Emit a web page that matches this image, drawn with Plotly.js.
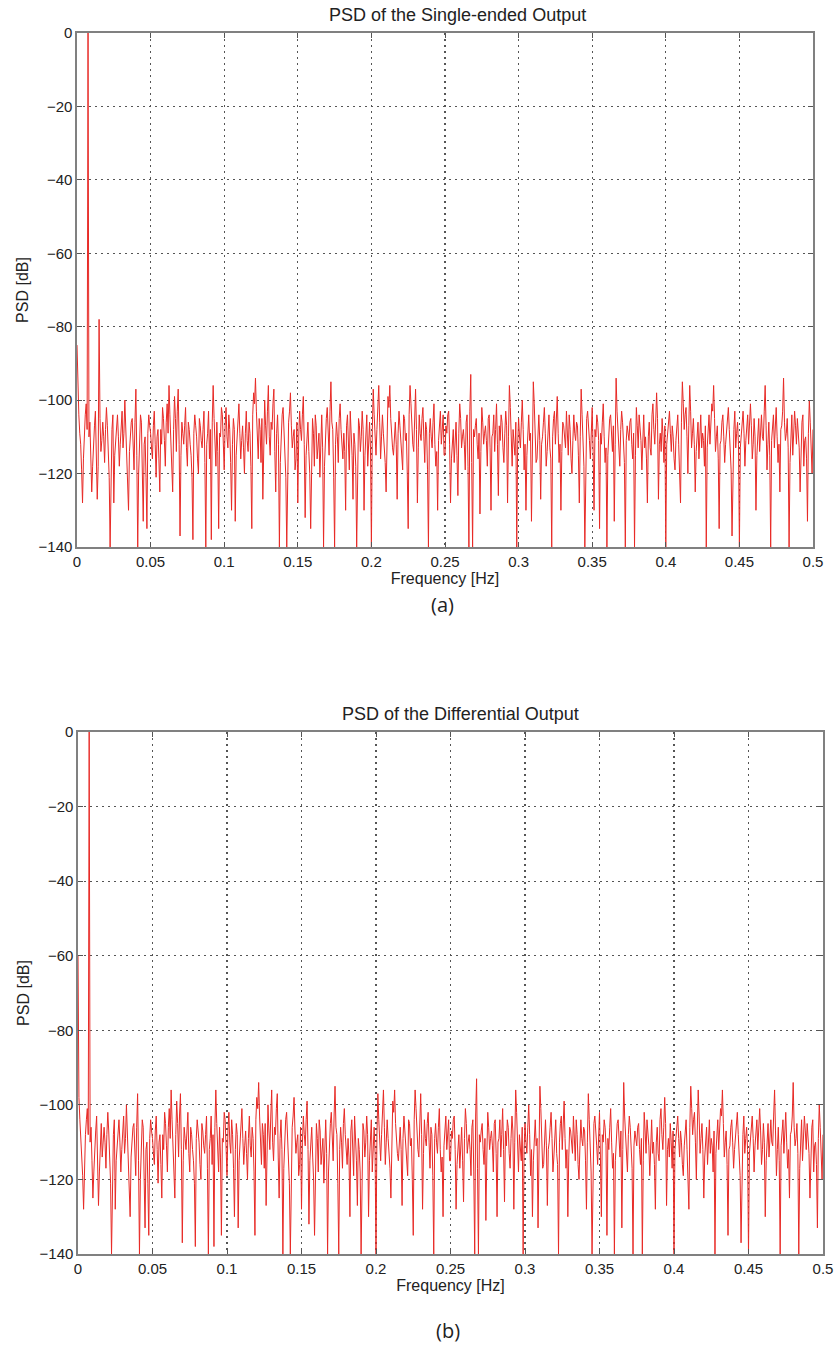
<!DOCTYPE html>
<html>
<head>
<meta charset="utf-8">
<script src="https://cdn.plot.ly/plotly-3.0.1.min.js"></script>
<style>
  html, body { margin: 0; padding: 0; background: #ffffff; }
  #chart { width: 837px; height: 1357px; }
</style>
</head>
<body>
<div id="chart"></div>
<script>
// ---------------- DATA ----------------
// Frequency grid: bins start at 0 Hz, spacing in Hz
const freqStart = 0;
const freqStep = 0.000625;

// Noise floor PSD in dB, one value per frequency bin
const noiseDb = [
  -85,-98,-104,-109,-112,-119,-128,-116,-108,-104,-101,-108,-112,-110,-106,-115,-125,-118,-110,-107,
  -103,-113,-127,-118,-109,-105,-114,-111,-106,-110,-117,-108,-102,-107,-112,-121,-140,-119,-108,-104,
  -128,-115,-111,-106,-104,-110,-118,-112,-107,-103,-113,-109,-100,-108,-115,-122,-130,-114,-109,-106,
  -105,-111,-119,-106,-97,-115,-140,-120,-112,-104,-106,-118,-133,-112,-110,-121,-135,-109,-104,-107,
  -109,-113,-116,-107,-103,-112,-121,-110,-108,-116,-125,-108,-112,-102,-105,-111,-118,-106,-101,-109,
  -96,-104,-110,-117,-125,-108,-99,-105,-114,-103,-97,-112,-137,-115,-106,-109,-112,-107,-102,-113,
  -118,-106,-108,-112,-115,-121,-138,-109,-104,-107,-110,-116,-120,-105,-107,-111,-113,-108,-103,-117,
  -140,-112,-109,-103,-116,-108,-138,-106,-96,-105,-112,-118,-106,-114,-135,-109,-110,-102,-104,-113,
  -119,-107,-102,-110,-113,-104,-108,-117,-130,-112,-105,-108,-133,-115,-111,-106,-101,-109,-116,-111,
  -107,-113,-120,-109,-103,-111,-114,-106,-109,-118,-135,-104,-98,-101,-94,-103,-110,-116,-105,-108,
  -117,-105,-127,-112,-100,-107,-112,-103,-96,-110,-115,-106,-108,-101,-97,-114,-125,-109,-104,-112,
  -140,-117,-110,-104,-102,-109,-118,-121,-140,-112,-106,-103,-98,-107,-113,-110,-108,-119,-116,-106,
  -128,-110,-103,-108,-111,-104,-99,-112,-132,-115,-109,-106,-114,-120,-135,-111,-105,-109,-118,-104,
  -107,-116,-112,-109,-121,-107,-104,-113,-140,-118,-110,-105,-102,-111,-115,-103,-95,-106,-108,-121,
  -140,-112,-106,-110,-117,-105,-101,-108,-113,-116,-109,-114,-130,-107,-104,-111,-119,-103,-108,-115,
  -127,-109,-112,-118,-140,-112,-105,-107,-114,-110,-103,-108,-130,-115,-110,-104,-118,-111,-106,-113,
  -140,-108,-97,-104,-111,-115,-108,-103,-96,-106,-116,-110,-104,-109,-112,-117,-125,-107,-99,-102,
  -96,-105,-110,-113,-115,-108,-106,-112,-127,-109,-103,-107,-112,-116,-119,-104,-105,-111,-109,-120,
  -135,-104,-96,-101,-107,-112,-114,-106,-97,-108,-128,-113,-104,-109,-111,-105,-102,-110,-117,-106,
  -108,-119,-140,-109,-105,-110,-113,-106,-101,-112,-118,-114,-130,-111,-107,-103,-112,-108,-104,-115,
  -115,-107,-109,-104,-103,-112,-128,-116,-110,-108,-117,-111,-106,-115,-126,-109,-101,-105,-113,-110,
  -108,-112,-119,-106,-104,-118,-140,-103,-93,-117,-140,-108,-110,-107,-105,-112,-116,-109,-131,-114,
  -102,-106,-112,-109,-107,-111,-118,-105,-104,-113,-130,-110,-109,-104,-114,-108,-101,-112,-126,-107,
  -111,-104,-106,-113,-117,-109,-103,-107,-128,-110,-96,-102,-112,-118,-108,-111,-115,-106,-140,-112,
  -105,-110,-113,-106,-100,-108,-119,-112,-130,-115,-108,-104,-111,-109,-133,-113,-95,-101,-109,-117,
  -116,-108,-104,-111,-127,-112,-110,-106,-102,-109,-118,-114,-107,-104,-113,-116,-140,-110,-105,-103,
  -112,-105,-99,-109,-117,-112,-130,-114,-106,-107,-110,-113,-103,-108,-115,-104,-108,-116,-120,-111,
  -104,-109,-111,-106,-107,-115,-128,-110,-97,-104,-113,-118,-140,-112,-105,-103,-109,-111,-116,-107,
  -102,-114,-130,-108,-110,-104,-106,-111,-135,-109,-112,-106,-101,-110,-117,-113,-140,-115,-108,-105,
  -104,-110,-114,-107,-133,-112,-94,-103,-109,-114,-118,-108,-103,-106,-112,-117,-140,-111,-107,-109,
  -111,-106,-105,-112,-116,-109,-140,-115,-102,-107,-113,-104,-108,-111,-119,-108,-104,-113,-110,-116,
  -128,-110,-106,-113,-115,-104,-101,-108,-112,-106,-98,-105,-127,-112,-109,-114,-105,-110,-117,-107,
  -140,-112,-108,-105,-103,-109,-114,-107,-110,-116,-119,-111,-106,-104,-112,-118,-128,-106,-95,-101,
  -108,-104,-102,-110,-120,-107,-96,-103,-113,-109,-105,-112,-125,-114,-110,-106,-116,-108,-104,-113,
  -109,-111,-118,-107,-140,-113,-106,-104,-112,-108,-101,-103,-96,-105,-114,-110,-107,-116,-135,-112,
  -111,-106,-104,-110,-117,-112,-109,-105,-102,-108,-115,-119,-137,-114,-108,-103,-113,-109,-106,-112,
  -140,-113,-110,-106,-103,-109,-118,-111,-107,-104,-112,-108,-101,-107,-116,-112,-105,-110,-130,-115,
  -109,-105,-114,-108,-104,-110,-111,-103,-96,-107,-119,-112,-106,-115,-140,-111,-108,-104,-113,-109,
  -102,-110,-117,-112,-125,-108,-107,-103,-94,-106,-111,-109,-105,-113,-140,-117,-109,-104,-115,-108,
  -103,-107,-112,-105,-108,-113,-125,-110,-106,-104,-118,-111,-110,-116,-133,-109,-100,-106,-114,-120,
  -108
];

// Tones: bin index and level (dB) for each output
const toneBinsSingle = [12, 24];
const toneDbSingle = [0, -78];
const toneBinsDiff = [0, 12];
const toneDbDiff = [-60, 0];

// Axis ticks
const xTicks = [0, 0.05, 0.1, 0.15, 0.2, 0.25, 0.3, 0.35, 0.4, 0.45, 0.5];
const xTickText = ['0', '0.05', '0.1', '0.15', '0.2', '0.25', '0.3', '0.35', '0.4', '0.45', '0.5'];
const yTicks = [-140, -120, -100, -80, -60, -40, -20, 0];

const titles = ['PSD of the Single-ended Output', 'PSD of the Differential Output'];
const panelLabels = ['(a)', '(b)'];
const xLabel = 'Frequency [Hz]';
const yLabel = 'PSD [dB]';

// ---------------- BUILD ----------------
function withTones(base, bins, vals) {
  const out = base.slice();
  bins.forEach((b, i) => { out[b] = vals[i]; });
  return out;
}
const psdSingle = withTones(noiseDb, toneBinsSingle, toneDbSingle);
const psdDiff = withTones(noiseDb, toneBinsDiff, toneDbDiff);

const W = 837, H = 1357;
const px = v => v / W;
const py = v => 1 - v / H;

const lineStyle = { color: 'rgb(232,42,38)', width: 1 };
const tickFont = { family: 'Liberation Sans, Arial, sans-serif', size: 15, color: '#222' };
const labelFont = { family: 'Liberation Sans, Arial, sans-serif', size: 16, color: '#222' };
const titleFont = { family: 'Liberation Sans, Arial, sans-serif', size: 18, color: '#222' };
const panelFont = { family: 'Open Sans, Noto Sans, sans-serif', size: 20, color: '#222' };

function xAxis(domain, anchor) {
  return {
    domain: domain, anchor: anchor, range: [0, 0.5],
    tickmode: 'array', tickvals: xTicks, ticktext: xTickText,
    ticks: 'inside', ticklen: 5, tickcolor: '#555', tickwidth: 1,
    showline: true, linecolor: '#808080', linewidth: 1.6, mirror: 'ticks',
    showgrid: true, gridcolor: '#555', griddash: '2px,4px', gridwidth: 1.1,
    zeroline: false, tickfont: tickFont,
    title: { text: xLabel, font: labelFont, standoff: 1 },
    automargin: false, fixedrange: true
  };
}
function yAxis(domain, anchor) {
  return {
    domain: domain, anchor: anchor, range: [-140, 0],
    tickmode: 'array', tickvals: yTicks,
    ticks: 'inside', ticklen: 5, tickcolor: '#555', tickwidth: 1,
    showline: true, linecolor: '#808080', linewidth: 1.6, mirror: 'ticks',
    showgrid: true, gridcolor: '#555', griddash: '2px,4px', gridwidth: 1.1,
    zeroline: false, tickfont: tickFont,
    title: { text: yLabel, font: labelFont, standoff: 6 },
    automargin: false, fixedrange: true
  };
}

const traces = [
  { type: 'scatter', mode: 'lines', x0: freqStart, dx: freqStep, y: psdSingle,
    line: lineStyle, xaxis: 'x', yaxis: 'y', hoverinfo: 'skip', showlegend: false },
  { type: 'scatter', mode: 'lines', x0: freqStart, dx: freqStep, y: psdDiff,
    line: lineStyle, xaxis: 'x2', yaxis: 'y2', hoverinfo: 'skip', showlegend: false }
];

const layout = {
  width: W, height: H,
  margin: { l: 0, r: 0, t: 0, b: 0 },
  paper_bgcolor: '#ffffff', plot_bgcolor: '#ffffff',
  showlegend: false,
  xaxis: xAxis([px(77), px(813)], 'y'),
  yaxis: yAxis([py(547), py(33)], 'x'),
  xaxis2: xAxis([px(78), px(823)], 'y2'),
  yaxis2: yAxis([py(1254), py(732)], 'x2'),
  annotations: [
    { text: titles[0], xref: 'paper', yref: 'paper', x: px(457), y: py(15),
      showarrow: false, font: titleFont, xanchor: 'center', yanchor: 'middle' },
    { text: titles[1], xref: 'paper', yref: 'paper', x: px(460), y: py(714),
      showarrow: false, font: titleFont, xanchor: 'center', yanchor: 'middle' },
    { text: panelLabels[0], xref: 'paper', yref: 'paper', x: px(443), y: py(604),
      showarrow: false, font: panelFont, xanchor: 'center', yanchor: 'middle' },
    { text: panelLabels[1], xref: 'paper', yref: 'paper', x: px(448), y: py(1330),
      showarrow: false, font: panelFont, xanchor: 'center', yanchor: 'middle' }
  ]
};

Plotly.newPlot('chart', traces, layout, { staticPlot: true, displayModeBar: false });
</script>
</body>
</html>
